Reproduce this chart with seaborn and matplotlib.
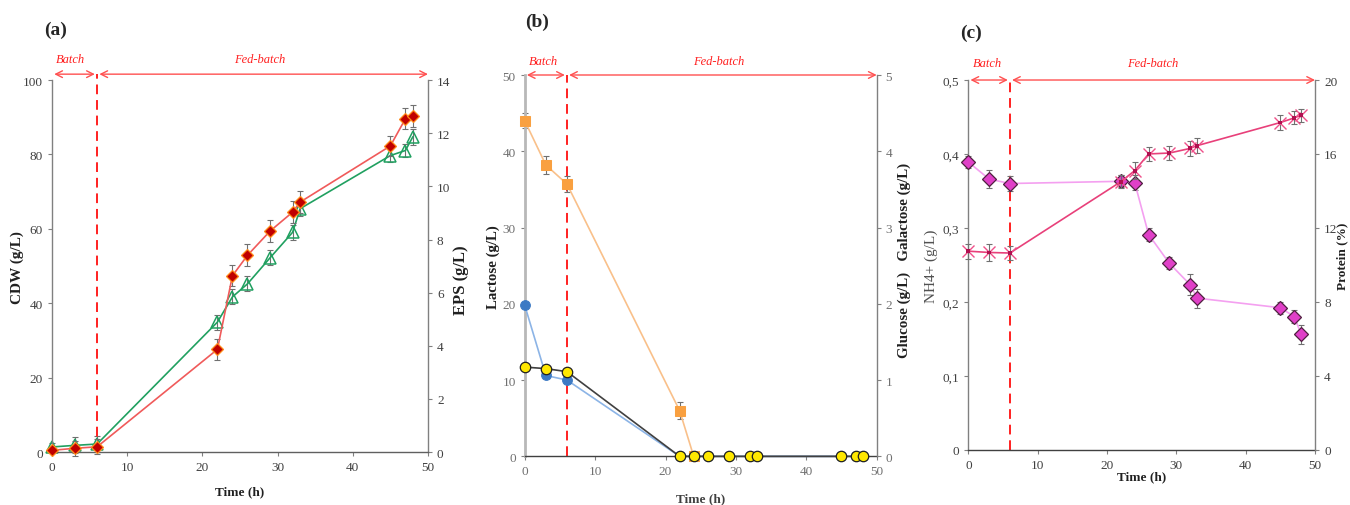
import matplotlib
matplotlib.use("Agg")
import matplotlib.pyplot as plt
import matplotlib.ticker as mticker
import seaborn as sns
import numpy as np
import pandas as pd

# ---------------- data ----------------
time_a = [0, 3, 6, 22, 24, 26, 29, 32, 33, 45, 47, 48]
cdw = [0.45, 1.0, 1.4, 27.6, 47.4, 52.9, 59.4, 64.5, 67.2, 82.3, 89.6, 90.4]
cdw_err = [0.8, 2.0, 2.0, 2.8, 2.8, 3.0, 3.0, 3.0, 3.0, 2.7, 2.8, 3.0]
eps = [0.19, 0.25, 0.30, 4.89, 5.84, 6.33, 7.31, 8.27, 9.16, 11.16, 11.35, 11.87]
eps_err = [0.15, 0.3, 0.3, 0.28, 0.28, 0.28, 0.28, 0.28, 0.28, 0.25, 0.25, 0.3]

time_b = [0, 3, 6, 22, 24, 26, 29, 32, 33, 45, 47, 48]
lactose = [44.0, 38.2, 35.7, 6.0, 0, 0, 0, 0, 0, 0, 0, 0]
lactose_err = [1.0, 1.2, 1.0, 1.1, 0, 0, 0, 0, 0, 0, 0, 0]
glucose = [1.98, 1.06, 1.00, 0, 0, 0, 0, 0, 0, 0, 0, 0]
galactose = [1.17, 1.15, 1.11, 0, 0, 0, 0, 0, 0, 0, 0, 0]

time_c = [0, 3, 6, 22, 24, 26, 29, 32, 33, 45, 47, 48]
nh4 = [0.389, 0.366, 0.360, 0.363, 0.361, 0.291, 0.252, 0.223, 0.205, 0.192, 0.180, 0.156]
nh4_err = [0.008, 0.012, 0.010, 0.008, 0.010, 0.009, 0.008, 0.014, 0.013, 0.008, 0.009, 0.013]
protein = [10.74, 10.67, 10.64, 14.5, 15.1, 16.0, 16.05, 16.3, 16.45, 17.7, 17.95, 18.1]
protein_err = [0.4, 0.45, 0.4, 0.35, 0.45, 0.4, 0.4, 0.4, 0.4, 0.4, 0.35, 0.35]

x_ticks = [0, 10, 20, 30, 40, 50]

# ---------------- style ----------------
sns.set_style("ticks")
plt.rcParams["font.family"] = ["Liberation Serif", "DejaVu Serif"]

fig = plt.figure(figsize=(13.5, 5.06), dpi=100)

ax_a = fig.add_axes([0.0385, 0.1047, 0.2785, 0.735])
ax_b = fig.add_axes([0.3887, 0.0962, 0.2607, 0.7536])
ax_c = fig.add_axes([0.7173, 0.1093, 0.2568, 0.7306])

TICK_FS = 9.5
VLAB_FS = 11
XLAB_FS = 9
RED = "#FF2020"


def style_axes(ax, ax2, spine_col="#808080", tick_col="#404040", bottom_col="#606060"):
    for a in (ax, ax2):
        a.spines["top"].set_visible(False)
        for s in ("left", "right", "bottom"):
            a.spines[s].set_color(spine_col)
            a.spines[s].set_linewidth(1.0)
        a.tick_params(direction="out", length=3, width=0.8, colors=spine_col,
                      labelcolor=tick_col, labelsize=TICK_FS)
    ax.spines["right"].set_visible(False)
    ax2.spines["left"].set_visible(False)
    ax2.spines["bottom"].set_visible(False)
    ax.spines["bottom"].set_color(bottom_col)
    ax.set_xlim(0, 50)
    ax.set_xticks(x_ticks)


def phases(ax, y_arrow, y_text, x_batch, x_fed):
    kw = dict(arrowstyle="<->", color="#FF5050", lw=1.0, shrinkA=0, shrinkB=0,
              mutation_scale=12)
    ax.annotate("", xy=(0.3, y_arrow), xytext=(5.7, y_arrow),
                xycoords="data", arrowprops=kw, annotation_clip=False)
    ax.annotate("", xy=(6.3, y_arrow), xytext=(50, y_arrow),
                xycoords="data", arrowprops=kw, annotation_clip=False)
    ax.text(x_batch, y_text, "Batch", color=RED, style="italic",
            ha="center", va="center", fontsize=9, clip_on=False)
    ax.text(x_fed, y_text, "Fed-batch", color=RED, style="italic",
            ha="center", va="center", fontsize=9, clip_on=False)
    ax.plot([6, 6], [0, y_arrow], color=RED, lw=1.4, ls=(0, (5, 3)),
            clip_on=False, zorder=1)


def ebar(ax, x, y, e, z=2):
    ax.errorbar(x, y, yerr=e, fmt="none", ecolor="#707070", elinewidth=0.8,
                capsize=2, capthick=0.8, zorder=z, clip_on=False)


# ================= (a) =================
ax_a2 = ax_a.twinx()
style_axes(ax_a, ax_a2)
df_a = pd.DataFrame({"t": time_a, "cdw": cdw, "eps": eps})

ebar(ax_a2, time_a, eps, eps_err)
sns.lineplot(data=df_a, x="t", y="eps", ax=ax_a2, color="#20A060", lw=1.2,
             marker="^", markersize=8, markerfacecolor="none",
             markeredgecolor="#20A060", markeredgewidth=1.1, errorbar=None,
             sort=False, clip_on=False, zorder=3)
ebar(ax_a, time_a, cdw, cdw_err)
sns.lineplot(data=df_a, x="t", y="cdw", ax=ax_a, color="#F05A5A", lw=1.2,
             marker="D", markersize=6.5, markerfacecolor="#C00000",
             markeredgecolor="#FF8C1A", markeredgewidth=0.9, errorbar=None,
             sort=False, clip_on=False, zorder=5)
# CDW drawn above EPS
ax_a.set_zorder(ax_a2.get_zorder() + 1)
ax_a.patch.set_visible(False)

ax_a.set_ylim(0, 100)
ax_a.set_yticks([0, 20, 40, 60, 80, 100])
ax_a2.set_ylim(0, 14)
ax_a2.set_yticks(range(0, 15, 2))
ax_a.set_xlim(0, 50)
ax_a.set_xlabel("Time (h)", fontsize=XLAB_FS + 0.5, fontweight="bold", color="#202020")
ax_a.xaxis.set_label_coords(0.5, -0.089)
ax_a.set_ylabel("CDW (g/L)", fontsize=VLAB_FS, fontweight="bold", color="#202020")
ax_a.yaxis.set_label_coords(-0.074, 0.5)
ax_a2.set_ylabel("EPS (g/L)", fontsize=VLAB_FS + 1, fontweight="bold", color="#202020")
ax_a2.yaxis.set_label_coords(1.066, 0.465)
phases(ax_a, 101.6, 105.8, 2.4, 27.6)
fig.text(44 / 1350, 1 - 30 / 506, "(a)", fontsize=14, fontweight="bold", va="center")

# ================= (b) =================
ax_b2 = ax_b.twinx()
style_axes(ax_b, ax_b2, spine_col="#808080", tick_col="#707070", bottom_col="#404040")
ax_b.spines["left"].set_color("#B8B8B8")
ax_b.spines["left"].set_linewidth(2.0)
df_b = pd.DataFrame({"t": time_b, "lac": lactose, "glu": glucose, "gal": galactose})

ebar(ax_b, time_b[:4], lactose[:4], lactose_err[:4])
sns.lineplot(data=df_b.iloc[:5], x="t", y="lac", ax=ax_b, color="#F9C08A", lw=1.2,
             marker="s", markersize=7, markerfacecolor="#F9A040",
             markeredgecolor="#F9A040", errorbar=None, sort=False,
             clip_on=False, zorder=3)
sns.lineplot(data=df_b, x="t", y="glu", ax=ax_b2, color="#8CB4E6", lw=1.2,
             marker="o", markersize=7, markerfacecolor="#3C7AC4",
             markeredgecolor="#3C7AC4", errorbar=None, sort=False,
             clip_on=False, zorder=3)
sns.lineplot(data=df_b, x="t", y="gal", ax=ax_b2, color="#404040", lw=1.2,
             marker="o", markersize=7.5, markerfacecolor="#FFE800",
             markeredgecolor="#202020", markeredgewidth=0.9, errorbar=None,
             sort=False, clip_on=False, zorder=6)

ax_b.set_ylim(0, 50)
ax_b.set_yticks(range(0, 51, 10))
ax_b2.set_ylim(0, 5)
ax_b2.set_yticks(range(0, 6))
ax_b.set_xlim(0, 50)
ax_b.set_xlabel("Time (h)", fontsize=XLAB_FS + 0.5, fontweight="bold", color="#404040")
ax_b.xaxis.set_label_coords(0.5, -0.094)
ax_b.set_ylabel("Lactose (g/L)", fontsize=VLAB_FS - 0.3, fontweight="bold", color="#202020")
ax_b.yaxis.set_label_coords(-0.070, 0.5)
ax_b2.set_ylabel("Glucose (g/L)   Galactose (g/L)", fontsize=VLAB_FS - 0.2,
                 fontweight="bold", color="#202020")
ax_b2.yaxis.set_label_coords(1.06, 0.517)
phases(ax_b, 50.0, 51.9, 2.6, 27.6)
fig.text(525 / 1350, 1 - 22 / 506, "(b)", fontsize=14, fontweight="bold", va="center")

# ================= (c) =================
ax_c2 = ax_c.twinx()
style_axes(ax_c, ax_c2, spine_col="#808080", tick_col="#404040", bottom_col="#404040")
df_c = pd.DataFrame({"t": time_c, "nh4": nh4, "prot": protein})

ax_c2.set_ylim(0, 20)
ax_c2.set_yticks(range(0, 21, 4))
ax_c.set_ylim(0, 0.5)
ax_c.set_yticks([0, 0.1, 0.2, 0.3, 0.4, 0.5])
ax_c.yaxis.set_major_formatter(mticker.FuncFormatter(
    lambda v, p: "0" if abs(v) < 1e-9 else f"{v:.1f}".replace(".", ",")))

ebar(ax_c, time_c, nh4, nh4_err)
sns.lineplot(data=df_c, x="t", y="nh4", ax=ax_c, color="#F4A0F0", lw=1.2,
             marker="D", markersize=7, markerfacecolor="#E040C8",
             markeredgecolor="#502040", markeredgewidth=0.9, errorbar=None,
             sort=False, clip_on=False, zorder=3)
ebar(ax_c2, time_c, protein, protein_err)
sns.lineplot(data=df_c, x="t", y="prot", ax=ax_c2, color="#E8407A", lw=1.2,
             marker="x", markersize=9, markeredgecolor="#F0508A",
             markeredgewidth=1.0, errorbar=None, sort=False, clip_on=False, zorder=3)
sns.scatterplot(data=df_c, x="t", y="prot", ax=ax_c2, marker="s", s=8,
                color="#B01050", edgecolor="none", zorder=4, clip_on=False)

ax_c.set_xlim(0, 50)
ax_c.set_xlabel("Time (h)", fontsize=XLAB_FS + 0.5, fontweight="bold", color="#202020")
ax_c.xaxis.set_label_coords(0.5, -0.055)
ax_c.set_ylabel("NH4+ (g/L)", fontsize=VLAB_FS, color="#505050")
ax_c.yaxis.set_label_coords(-0.087, 0.5)
ax_c2.set_ylabel("Protein (%)", fontsize=9.5, fontweight="bold", color="#202020")
ax_c2.yaxis.set_label_coords(1.062, 0.527)
phases(ax_c, 0.5, 0.523, 2.7, 26.6)
fig.text(960 / 1350, 1 - 33 / 506, "(c)", fontsize=14, fontweight="bold", va="center")

for a in (ax_a2, ax_b2, ax_c2):
    a.set_xlabel("")

fig.savefig("out.png", dpi=100)
